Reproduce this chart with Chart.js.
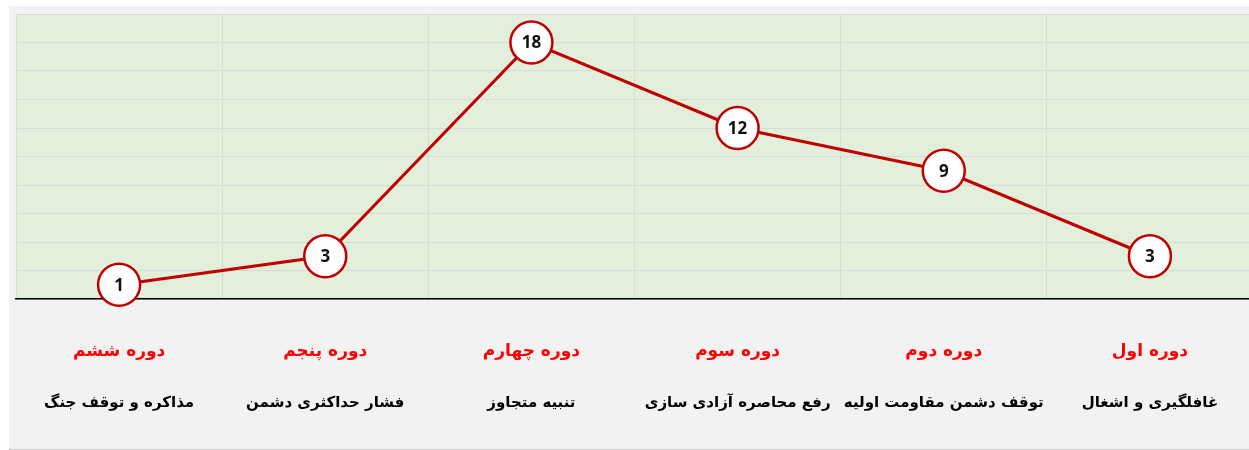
<!DOCTYPE html>
<html>
<head>
<meta charset="utf-8">
<script src="https://cdn.jsdelivr.net/npm/chart.js@4/dist/chart.umd.min.js"></script>
<style>
  html, body { margin: 0; padding: 0; background: #ffffff; overflow: hidden; }
  #box {
    position: absolute; left: 9px; top: 6px;
    width: 1244px; height: 443px;
    background: #f2f2f2;
    border-bottom: 1px solid #c8c8c8;
  }
</style>
</head>
<body>
<div id="box"><canvas id="phases"></canvas></div>
<script>
// data, in order of the periods (axis is drawn right to left)
const periods = ["دوره اول", "دوره دوم", "دوره سوم", "دوره چهارم", "دوره پنجم", "دوره ششم"];
const subtitles = ["غافلگیری و اشغال", "توقف دشمن مقاومت اولیه", "رفع محاصره آزادی سازی", "تنبیه متجاوز", "فشار حداکثری دشمن", "مذاکره و توقف جنگ"];
const values = [3, 9, 12, 18, 3, 1];

const faFont = "'DejaVu Sans', sans-serif";

// light green fill behind the plot
const plotBackground = {
  id: "plotBackground",
  beforeDraw(chart) {
    const { ctx, chartArea: a } = chart;
    ctx.save();
    ctx.fillStyle = "#e2efda";
    ctx.fillRect(a.left, a.top, a.right - a.left, a.bottom - a.top);
    ctx.restore();
  },
};

// number written inside every marker
const valueLabels = {
  id: "valueLabels",
  afterDatasetsDraw(chart) {
    const ctx = chart.ctx;
    const meta = chart.getDatasetMeta(0);
    ctx.save();
    ctx.font = "bold 17px 'Open Sans', sans-serif";
    ctx.fillStyle = "#111";
    ctx.textAlign = "center";
    ctx.textBaseline = "middle";
    meta.data.forEach((pt, i) => ctx.fillText(values[i], pt.x, pt.y + 1));
    ctx.restore();
  },
};

const ctx = document.getElementById("phases").getContext("2d");

new Chart(ctx, {
  type: "line",
  data: {
    labels: periods,
    datasets: [
      {
        data: values,
        borderColor: "#c00000",
        borderWidth: 3,
        tension: 0,
        pointRadius: 21,
        pointHoverRadius: 21,
        pointBackgroundColor: "#ffffff",
        pointBorderColor: "#c00000",
        pointBorderWidth: 2.5,
        clip: false,
      },
    ],
  },
  options: {
    responsive: true,
    maintainAspectRatio: false,
    animation: false,
    layout: { autoPadding: false, padding: { left: 7, right: 0, top: 8, bottom: 12 } },
    scales: {
      x: {
        reverse: true,
        offset: true,
        grid: { offset: true, color: "#d9d9d9", lineWidth: 1, drawTicks: false },
        border: { color: "#000000", width: 1.5 },
        ticks: {
          color: "#ff0000",
          padding: 42,
          maxRotation: 0,
          autoSkip: false,
          font: { family: faFont, size: 17, weight: "bold" },
        },
        afterFit: (scale) => { scale.height = 70; }, // padding would be counted twice otherwise
      },
      x2: {
        type: "category",
        labels: subtitles,
        position: "bottom",
        reverse: true,
        offset: true,
        grid: { display: false, drawTicks: false },
        border: { display: false },
        ticks: {
          color: "#000000",
          padding: 25,
          maxRotation: 0,
          autoSkip: false,
          font: { family: faFont, size: 15, weight: "bold" },
        },
      },
      y: {
        min: 0,
        max: 20,
        ticks: { display: false, stepSize: 2 },
        grid: { color: "#d9d9d9", lineWidth: 1, drawTicks: false },
        border: { display: false },
      },
    },
    plugins: {
      legend: { display: false },
      tooltip: { enabled: false },
    },
  },
  plugins: [plotBackground, valueLabels],
});
</script>
</body>
</html>
